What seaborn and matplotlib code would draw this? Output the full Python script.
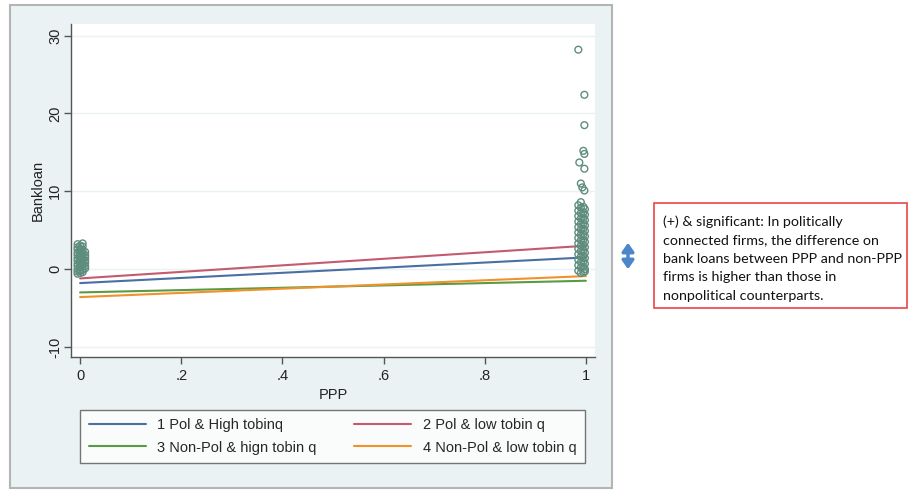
import numpy as np
import pandas as pd
import seaborn as sns
import matplotlib.pyplot as plt
from matplotlib.patches import Rectangle

sns.set_style("white")
plt.rcParams['font.family'] = ['Liberation Sans', 'DejaVu Sans']

# fitted lines (value at PPP=0 and PPP=1)
groups = ["1 Pol & High tobinq", "2 Pol & low tobin q",
          "3 Non-Pol & hign tobin q", "4 Non-Pol & low tobin q"]
line_start = [-1.8, -1.2, -3.0, -3.6]
line_end = [1.5, 3.0, -1.5, -0.9]
colors = ["#4a6fa3", "#c45a6e", "#5b9a45", "#f0922a"]

# observations with PPP = 0 (jittered)
x0 = ([-0.005] * 12 + [0.0] * 11 + [0.005] * 11 + [0.010] * 7)
y0 = [3.2, 2.8, 2.5, 2.1, 1.8, 1.4, 1.1, 0.7, 0.4, 0.0, -0.3, -0.6,
      3.0, 2.6, 2.3, 1.9, 1.6, 1.2, 0.9, 0.5, 0.2, -0.2, -0.5,
      3.3, 2.9, 2.4, 2.0, 1.7, 1.3, 1.0, 0.6, 0.3, -0.1, -0.4,
      2.2, 1.8, 1.5, 1.1, 0.8, 0.4, 0.1]

# observations with PPP = 1 (jittered)
x1 = ([0.985] * 13 + [0.990] * 14 + [0.995] * 13 + [0.998] * 13 +
      [0.985, 0.997, 0.997, 0.995, 0.997, 0.987, 0.997, 0.990, 0.993, 0.997])
y1 = [8.2, 7.5, 6.8, 6.1, 5.4, 4.7, 4.0, 3.3, 2.6, 1.9, 1.2, 0.5, -0.2,
      8.6, 7.9, 7.2, 6.5, 5.8, 5.1, 4.4, 3.7, 3.0, 2.3, 1.6, 0.9, 0.2, -0.5,
      8.0, 7.3, 6.6, 5.9, 5.2, 4.5, 3.8, 3.1, 2.4, 1.7, 1.0, 0.3, -0.4,
      7.7, 7.0, 6.3, 5.6, 4.9, 4.2, 3.5, 2.8, 2.1, 1.4, 0.7, 0.0, -0.3,
      28.2, 22.4, 18.5, 15.2, 14.8, 13.7, 12.9, 11.0, 10.5, 10.1]

x_ticks = [0, 0.2, 0.4, 0.6, 0.8, 1]
x_ticklabels = ["0", ".2", ".4", ".6", ".8", "1"]
y_ticks = [-10, 0, 10, 20, 30]

note = ("(+) & significant: In politically\n"
        "connected firms, the difference on\n"
        "bank loans between PPP and non-PPP\n"
        "firms is higher than those in\n"
        "nonpolitical counterparts.")

W, H = 909, 491
fig = plt.figure(figsize=(W / 100, H / 100), dpi=100)
fig.patch.set_facecolor("white")

# Stata graph region
bg = Rectangle((10 / W, 1 - 488 / H), 602 / W, 483 / H,
               transform=fig.transFigure, facecolor="#eaf2f3",
               edgecolor="#b4b4b4", linewidth=1.5)
bg.set_zorder(-5)
fig.patches.append(bg)

ax = fig.add_axes([71 / W, 1 - 357 / H, 524 / W, 333 / H])
ax.set_facecolor("white")

lines = pd.DataFrame({
    "PPP": [0, 1] * len(groups),
    "Bankloan": [v for a, b in zip(line_start, line_end) for v in (a, b)],
    "group": [g for g in groups for _ in range(2)],
})
sns.lineplot(data=lines, x="PPP", y="Bankloan", hue="group", palette=colors,
             linewidth=1.5, ax=ax, legend=True, zorder=2)

pts = pd.DataFrame({"PPP": x0 + x1, "Bankloan": y0 + y1})
sns.scatterplot(data=pts, x="PPP", y="Bankloan", marker="o", s=24,
                facecolor="none", edgecolor="#5e8d7e", linewidth=1.0,
                ax=ax, zorder=3)

ax.set_xlim(-0.018, 1.018)
ax.set_ylim(-11.3, 31.5)
ax.set_xticks(x_ticks)
ax.set_xticklabels(x_ticklabels, fontsize=10.5)
ax.set_yticks(y_ticks)
ax.set_yticklabels([str(v) for v in y_ticks], fontsize=10.5, rotation=90, va="center")
ax.tick_params(axis="both", direction="out", length=5, width=1, color="#555555",
               labelcolor="#222222", pad=4, left=True, bottom=True)
ax.tick_params(axis="y", pad=1.5)
for v in y_ticks:
    ax.axhline(v, color="#eaf2f3", linewidth=1, zorder=1)
for s in ["top", "right"]:
    ax.spines[s].set_visible(False)
for s in ["left", "bottom"]:
    ax.spines[s].set_color("#555555")
    ax.spines[s].set_linewidth(1)
ax.set_xlabel("PPP", fontsize=10.5, color="#222222", labelpad=3)
ax.set_ylabel("Bankloan", fontsize=10.5, color="#222222", labelpad=2)

handles, labels = ax.get_legend_handles_labels()
ax.get_legend().remove()
order = [0, 2, 1, 3]
leg = fig.legend([handles[i] for i in order], [labels[i] for i in order],
                 ncol=2, loc="center", mode="expand",
                 bbox_to_anchor=(80 / W, 1 - 463 / H, 505 / W, 53 / H),
                 fontsize=10.5, handlelength=3.9, frameon=True, fancybox=False,
                 edgecolor="#555555", borderaxespad=0, labelspacing=0.55,
                 borderpad=0.6, columnspacing=1.0)
leg.get_frame().set_linewidth(1)

# annotation on the right
fig.patches.append(Rectangle((654 / W, 1 - 308 / H), 253 / W, 105 / H,
                             transform=fig.transFigure, facecolor="white",
                             edgecolor="#ee4444", linewidth=1.2))
fig.text(663 / W, 1 - 215 / H, note, fontsize=10.3, family=["Lato", "DejaVu Sans"],
         va="top", ha="left", linespacing=1.66, color="#111111")
fig.add_artist(plt.Annotation("", xy=(628, H - 272), xytext=(628, H - 240),
                              xycoords="figure pixels", textcoords="figure pixels",
                              arrowprops=dict(arrowstyle="<|-|>,head_length=0.5,head_width=0.35",
                                              color="#4a86c8", lw=2.5)))

fig.savefig("out.png", dpi=100)
